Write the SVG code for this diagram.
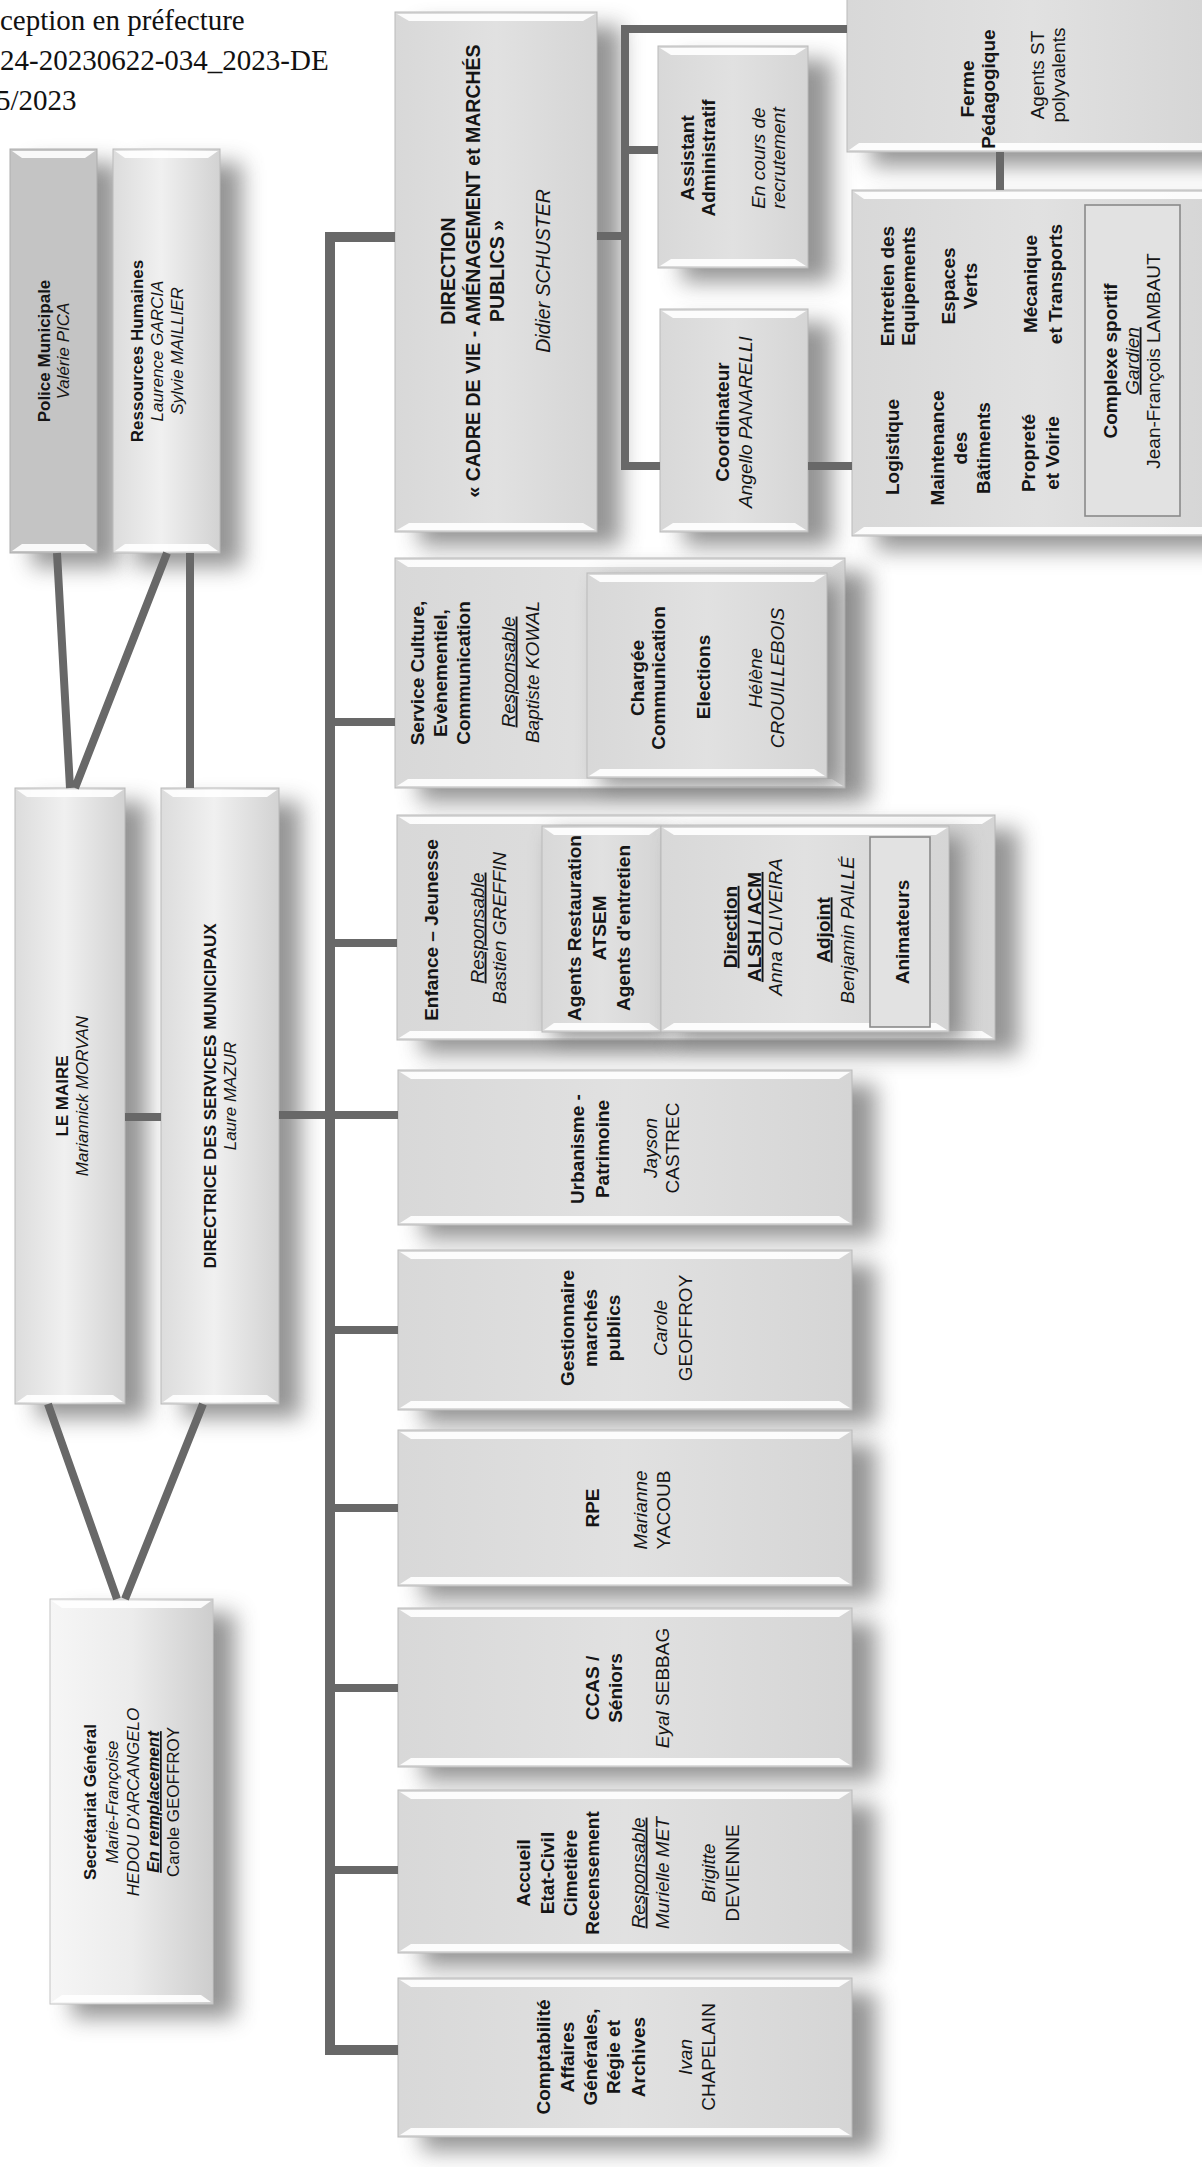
<svg xmlns="http://www.w3.org/2000/svg" width="1202" height="2167" viewBox="0 0 1202 2167">
<style>
.sh{fill:#777777;opacity:.78;filter:url(#blur)}
.bx{fill:url(#gBox);stroke:#b9b9b9;stroke-width:1}
.bxa{fill:url(#gAlt);stroke:#b9b9b9;stroke-width:1}
.bxs{fill:url(#gSec);stroke:#c4c4c4;stroke-width:1}
.bxp{fill:#c4c4c4;stroke:#adadad;stroke-width:1}
.bxi{fill:#e2e2e2;stroke:#8a8a8a;stroke-width:1.6}
.hl{fill:#ffffff;opacity:.9}
.t{font-family:"Liberation Sans",Arial,sans-serif;fill:#151515;text-anchor:middle}
.b{font-weight:bold}
.i{font-style:italic}
.u{text-decoration:underline}
.s165{font-size:17px}
.s17{font-size:17px}
.s19{font-size:19px}
.s195{font-size:19.5px}
.hd{font-family:"Liberation Serif","Times New Roman",serif;font-size:29px;fill:#111}
.cn{stroke:#686868;fill:none;stroke-width:8;stroke-linejoin:miter}
.bus{stroke-width:10}
</style>
<defs>
<filter id="blur" x="-30%" y="-30%" width="160%" height="160%"><feGaussianBlur stdDeviation="11"/></filter>
<linearGradient id="gBox" x1="0" y1="0" x2="1" y2="0"><stop offset="0" stop-color="#d8d8d8"/><stop offset=".5" stop-color="#e1e1e1"/><stop offset="1" stop-color="#d5d5d5"/></linearGradient>
<linearGradient id="gAlt" x1="0" y1="0" x2="1" y2="0"><stop offset="0" stop-color="#dcdcdc"/><stop offset=".45" stop-color="#f0f0f0"/><stop offset="1" stop-color="#d2d2d2"/></linearGradient>
<linearGradient id="gSec" x1="0" y1="0" x2="1" y2="0"><stop offset="0" stop-color="#f6f6f6"/><stop offset=".5" stop-color="#ececec"/><stop offset="1" stop-color="#cdcdcd"/></linearGradient>
</defs>
<rect width="1202" height="2167" fill="#ffffff"/>

<g id="header">
<text class="hd" x="0" y="30">ception en préfecture</text>
<text class="hd" x="0" y="70">24-20230622-034_2023-DE</text>
<text class="hd" x="-4" y="110">5/2023</text>
</g>

<g id="police">
<rect class="sh" x="32" y="163" width="87" height="404"/>
<rect class="bxp" x="10" y="149" width="87" height="404"/>
<path class="hl" d="M12 151H95L85 158H22Z"/><path class="hl" d="M12 551H95L85 544H22Z"/>
<text class="t b s165" transform="translate(49.8,351) rotate(-90)">Police Municipale</text>
<text class="t i s165" transform="translate(68.8,351) rotate(-90)">Valérie PICA</text>
</g>
<g id="rh">
<rect class="sh" x="135" y="163" width="107" height="404"/>
<rect class="bxa" x="113" y="149" width="107" height="404"/>
<path class="hl" d="M115 151H218L208 158H125Z"/><path class="hl" d="M115 551H218L208 544H125Z"/>
<text class="t b s165" transform="translate(142.8,351) rotate(-90)">Ressources Humaines</text>
<text class="t i s165" transform="translate(162.8,351) rotate(-90)">Laurence GARCIA</text>
<text class="t i s165" transform="translate(182.8,351) rotate(-90)">Sylvie MAILLIER</text>
</g>
<g id="maire">
<rect class="sh" x="37" y="802" width="110" height="616"/>
<rect class="bxa" x="15" y="788" width="110" height="616"/>
<path class="hl" d="M17 790H123L113 797H27Z"/><path class="hl" d="M17 1402H123L113 1395H27Z"/>
<text class="t b s165" transform="translate(67.8,1096) rotate(-90)">LE MAIRE</text>
<text class="t i s165" transform="translate(87.8,1096) rotate(-90)">Mariannick MORVAN</text>
</g>
<g id="dgs">
<rect class="sh" x="183" y="802" width="118" height="616"/>
<rect class="bxa" x="161" y="788" width="118" height="616"/>
<path class="hl" d="M163 790H277L267 797H173Z"/><path class="hl" d="M163 1402H277L267 1395H173Z"/>
<text class="t b s165" transform="translate(215.8,1096) rotate(-90)">DIRECTRICE DES SERVICES MUNICIPAUX</text>
<text class="t i s165" transform="translate(235.8,1096) rotate(-90)">Laure MAZUR</text>
</g>
<g id="secretariat">
<rect class="sh" x="72" y="1613" width="163" height="405"/>
<rect class="bxs" x="50" y="1599" width="163" height="405"/>
<path class="hl" d="M52 1601H211L201 1608H62Z"/><path class="hl" d="M52 2002H211L201 1995H62Z"/>
<text class="t b s17" transform="translate(96,1802) rotate(-90)">Secrétariat Général</text>
<text class="t i s17" transform="translate(118,1802) rotate(-90)">Marie-Françoise</text>
<text class="t i s17" transform="translate(139,1802) rotate(-90)">HEDOU D'ARCANGELO</text>
<text class="t b i u s17" transform="translate(159,1802) rotate(-90)">En remplacement</text>
<text class="t s17" transform="translate(179,1802) rotate(-90)">Carole GEOFFROY</text>
</g>

<g id="direction">
<rect class="sh" x="419" y="26" width="202" height="520"/>
<rect class="bx" x="395" y="12" width="202" height="520"/>
<path class="hl" d="M397 14H595L583 21H409Z"/><path class="hl" d="M397 530H595L583 523H409Z"/>
<text class="t b s195" transform="translate(454.8,271) rotate(-90)">DIRECTION</text>
<text class="t b s195" transform="translate(479.8,271) rotate(-90)">« CADRE DE VIE - AMÉNAGEMENT et MARCHÉS</text>
<text class="t b s195" transform="translate(503.8,271) rotate(-90)">PUBLICS »</text>
<text class="t i s195" transform="translate(549.8,271) rotate(-90)">Didier SCHUSTER</text>
</g>
<g id="assistant">
<rect class="sh" x="682" y="60" width="150" height="222"/>
<rect class="bx" x="658" y="46" width="150" height="222"/>
<path class="hl" d="M660 48H806L795 55H671Z"/><path class="hl" d="M660 266H806L795 259H671Z"/>
<text class="t b s19" transform="translate(693.6,158) rotate(-90)">Assistant</text>
<text class="t b s19" transform="translate(714.6,158) rotate(-90)">Administratif</text>
<text class="t i s19" transform="translate(764.6,158) rotate(-90)">En cours de</text>
<text class="t i s19" transform="translate(784.6,158) rotate(-90)">recrutement</text>
</g>
<g id="coordinateur">
<rect class="sh" x="684" y="323" width="148" height="223"/>
<rect class="bx" x="660" y="309" width="148" height="223"/>
<path class="hl" d="M662 311H806L795 318H673Z"/><path class="hl" d="M662 530H806L795 523H673Z"/>
<text class="t b s19" transform="translate(728.6,422) rotate(-90)">Coordinateur</text>
<text class="t i s19" transform="translate(751.6,422) rotate(-90)">Angello PANARELLI</text>
</g>
<g id="ferme">
<rect class="sh" x="871" y="0" width="370" height="166"/>
<rect class="bx" x="847" y="-4" width="370" height="156"/>
<path class="hl" d="M849 150H1215L1205 143H859Z"/>
<text class="t b s19" transform="translate(973.6,89) rotate(-90)">Ferme</text>
<text class="t b s19" transform="translate(994.6,89) rotate(-90)">Pédagogique</text>
<text class="t s19" transform="translate(1043.6,75) rotate(-90)">Agents ST</text>
<text class="t s19" transform="translate(1064.6,75) rotate(-90)">polyvalents</text>
</g>
<g id="logistique">
<rect class="sh" x="876" y="204" width="370" height="346"/>
<rect class="bx" x="852" y="190" width="370" height="346"/>
<path class="hl" d="M854 192H1220L1210 199H864Z"/><path class="hl" d="M854 534H1220L1210 527H864Z"/>
<text class="t b s19" transform="translate(898.6,447) rotate(-90)">Logistique</text>
<text class="t b s19" transform="translate(893.6,286) rotate(-90)">Entretien des</text>
<text class="t b s19" transform="translate(914.6,286) rotate(-90)">Equipements</text>
<text class="t b s19" transform="translate(943.6,448) rotate(-90)">Maintenance</text>
<text class="t b s19" transform="translate(966.6,448) rotate(-90)">des</text>
<text class="t b s19" transform="translate(989.6,448) rotate(-90)">Bâtiments</text>
<text class="t b s19" transform="translate(954.6,286) rotate(-90)">Espaces</text>
<text class="t b s19" transform="translate(976.6,286) rotate(-90)">Verts</text>
<text class="t b s19" transform="translate(1034.6,453) rotate(-90)">Propreté</text>
<text class="t b s19" transform="translate(1058.6,453) rotate(-90)">et Voirie</text>
<text class="t b s19" transform="translate(1036.6,284) rotate(-90)">Mécanique</text>
<text class="t b s19" transform="translate(1061.6,284) rotate(-90)">et Transports</text>
</g>
<g id="complexe">
<rect class="bxi" x="1085" y="205" width="95" height="311"/>
<text class="t b s19" transform="translate(1116.6,361) rotate(-90)">Complexe sportif</text>
<text class="t i u s19" transform="translate(1138.6,361) rotate(-90)">Gardien</text>
<text class="t s19" transform="translate(1159.6,361) rotate(-90)">Jean-François LAMBAUT</text>
</g>

<g id="culture">
<rect class="sh" x="419" y="572" width="450" height="230"/>
<rect class="bx" x="395" y="558" width="450" height="230"/>
<path class="hl" d="M397 560H843L832 567H408Z"/><path class="hl" d="M397 786H843L832 779H408Z"/>
<text class="t b s19" transform="translate(423.6,673) rotate(-90)">Service Culture,</text>
<text class="t b s19" transform="translate(446.6,673) rotate(-90)">Evènementiel,</text>
<text class="t b s19" transform="translate(469.6,673) rotate(-90)">Communication</text>
<text class="t i u s19" transform="translate(514.6,672) rotate(-90)">Responsable</text>
<text class="t i s19" transform="translate(538.6,672) rotate(-90)">Baptiste KOWAL</text>
</g>
<g id="chargee">
<rect class="sh" x="600" y="582" width="240" height="205"/>
<rect class="bx" x="587" y="573" width="240" height="205"/>
<path class="hl" d="M589 575H825L814 582H600Z"/><path class="hl" d="M589 776H825L814 769H600Z"/>
<text class="t b s19" transform="translate(643.6,678) rotate(-90)">Chargée</text>
<text class="t b s19" transform="translate(664.6,678) rotate(-90)">Communication</text>
<text class="t b s19" transform="translate(709.6,677) rotate(-90)">Elections</text>
<text class="t i s19" transform="translate(761.6,678) rotate(-90)">Hélène</text>
<text class="t i s19" transform="translate(783.6,678) rotate(-90)">CROUILLEBOIS</text>
</g>

<g id="enfance">
<rect class="sh" x="421" y="829" width="598" height="225"/>
<rect class="bx" x="397" y="815" width="598" height="225"/>
<path class="hl" d="M399 817H993L982 824H410Z"/><path class="hl" d="M399 1038H993L982 1031H410Z"/>
<text class="t b s19" transform="translate(437.6,930) rotate(-90)">Enfance – Jeunesse</text>
<text class="t i u s19" transform="translate(483.6,928) rotate(-90)">Responsable</text>
<text class="t i s19" transform="translate(505.6,928) rotate(-90)">Bastien GREFFIN</text>
</g>
<g id="agents">
<rect class="sh" x="552" y="834" width="119" height="206"/>
<rect class="bx" x="542" y="826" width="119" height="206"/>
<path class="hl" d="M544 828H659L649 835H554Z"/><path class="hl" d="M544 1030H659L649 1023H554Z"/>
<text class="t b s19" transform="translate(580.6,928) rotate(-90)">Agents Restauration</text>
<text class="t b s19" transform="translate(605.6,928) rotate(-90)">ATSEM</text>
<text class="t b s19" transform="translate(629.6,928) rotate(-90)">Agents d'entretien</text>
</g>
<g id="alsh">
<rect class="sh" x="675" y="836" width="288" height="206"/>
<rect class="bx" x="661" y="826" width="288" height="206"/>
<path class="hl" d="M663 828H947L936 835H674Z"/><path class="hl" d="M663 1030H947L936 1023H674Z"/>
<text class="t b u s19" transform="translate(736.6,927) rotate(-90)">Direction</text>
<text class="t b u s19" transform="translate(760.6,927) rotate(-90)">ALSH / ACM</text>
<text class="t i s19" transform="translate(781.6,927) rotate(-90)">Anna OLIVEIRA</text>
<text class="t b u s19" transform="translate(829.6,930) rotate(-90)">Adjoint</text>
<text class="t i s19" transform="translate(853.6,930) rotate(-90)">Benjamin PAILLÉ</text>
</g>
<g id="animateurs">
<rect class="bxi" x="870" y="837" width="60" height="190"/>
<text class="t b s19" transform="translate(908.6,932) rotate(-90)">Animateurs</text>
</g>

<g id="urbanisme">
<rect class="sh" x="422" y="1084" width="454" height="155"/>
<rect class="bx" x="398" y="1070" width="454" height="155"/>
<path class="hl" d="M400 1072H850L839 1079H411Z"/><path class="hl" d="M400 1223H850L839 1216H411Z"/>
<text class="t b s19" transform="translate(583.6,1149) rotate(-90)">Urbanisme -</text>
<text class="t b s19" transform="translate(608.6,1149) rotate(-90)">Patrimoine</text>
<text class="t i s19" transform="translate(656.6,1148) rotate(-90)">Jayson</text>
<text class="t s19" transform="translate(678.6,1148) rotate(-90)">CASTREC</text>
</g>
<g id="gestionnaire">
<rect class="sh" x="422" y="1264" width="454" height="160"/>
<rect class="bx" x="398" y="1250" width="454" height="160"/>
<path class="hl" d="M400 1252H850L839 1259H411Z"/><path class="hl" d="M400 1408H850L839 1401H411Z"/>
<text class="t b s19" transform="translate(573.6,1328) rotate(-90)">Gestionnaire</text>
<text class="t b s19" transform="translate(596.6,1328) rotate(-90)">marchés</text>
<text class="t b s19" transform="translate(619.6,1328) rotate(-90)">publics</text>
<text class="t i s19" transform="translate(666.6,1328) rotate(-90)">Carole</text>
<text class="t s19" transform="translate(691.6,1328) rotate(-90)">GEOFFROY</text>
</g>
<g id="rpe">
<rect class="sh" x="422" y="1444" width="454" height="156"/>
<rect class="bx" x="398" y="1430" width="454" height="156"/>
<path class="hl" d="M400 1432H850L839 1439H411Z"/><path class="hl" d="M400 1584H850L839 1577H411Z"/>
<text class="t b s19" transform="translate(598.6,1508) rotate(-90)">RPE</text>
<text class="t i s19" transform="translate(646.6,1510) rotate(-90)">Marianne</text>
<text class="t s19" transform="translate(669.6,1510) rotate(-90)">YACOUB</text>
</g>
<g id="ccas">
<rect class="sh" x="422" y="1622" width="454" height="159"/>
<rect class="bx" x="398" y="1608" width="454" height="159"/>
<path class="hl" d="M400 1610H850L839 1617H411Z"/><path class="hl" d="M400 1765H850L839 1758H411Z"/>
<text class="t b s19" transform="translate(598.6,1688) rotate(-90)">CCAS /</text>
<text class="t b s19" transform="translate(621.6,1688) rotate(-90)">Séniors</text>
<text class="t s19" transform="translate(668.6,1688) rotate(-90)"><tspan class="i">Eyal</tspan> SEBBAG</text>
</g>
<g id="accueil">
<rect class="sh" x="422" y="1804" width="454" height="163"/>
<rect class="bx" x="398" y="1790" width="454" height="163"/>
<path class="hl" d="M400 1792H850L839 1799H411Z"/><path class="hl" d="M400 1951H850L839 1944H411Z"/>
<text class="t b s19" transform="translate(529.6,1873) rotate(-90)">Accueil</text>
<text class="t b s19" transform="translate(553.6,1873) rotate(-90)">Etat-Civil</text>
<text class="t b s19" transform="translate(576.6,1873) rotate(-90)">Cimetière</text>
<text class="t b s19" transform="translate(598.6,1873) rotate(-90)">Recensement</text>
<text class="t i u s19" transform="translate(644.6,1873) rotate(-90)">Responsable</text>
<text class="t i s19" transform="translate(668.6,1873) rotate(-90)">Murielle MET</text>
<text class="t i s19" transform="translate(714.6,1873) rotate(-90)">Brigitte</text>
<text class="t s19" transform="translate(738.6,1873) rotate(-90)">DEVIENNE</text>
</g>
<g id="comptabilite">
<rect class="sh" x="422" y="1992" width="454" height="159"/>
<rect class="bx" x="398" y="1978" width="454" height="159"/>
<path class="hl" d="M400 1980H850L839 1987H411Z"/><path class="hl" d="M400 2135H850L839 2128H411Z"/>
<text class="t b s19" transform="translate(549.6,2057) rotate(-90)">Comptabilité</text>
<text class="t b s19" transform="translate(573.6,2057) rotate(-90)">Affaires</text>
<text class="t b s19" transform="translate(596.6,2057) rotate(-90)">Générales,</text>
<text class="t b s19" transform="translate(619.6,2057) rotate(-90)">Régie et</text>
<text class="t b s19" transform="translate(644.6,2057) rotate(-90)">Archives</text>
<text class="t i s19" transform="translate(691.6,2057) rotate(-90)">Ivan</text>
<text class="t s19" transform="translate(714.6,2057) rotate(-90)">CHAPELAIN</text>
</g>

<g id="connectors">
<path class="cn bus" d="M395 237H330V2050H398"/>
<path class="cn" d="M330 722H395M330 943H397M279 1115H398M330 1330H398M330 1508H398M330 1688H398M330 1870H398"/>
<path class="cn" d="M125 1117H161"/>
<path class="cn" d="M57 553L70 788M167 553L75 788M190 553V788"/>
<path class="cn" d="M48 1404L117 1599M203 1404L125 1599"/>
<path class="cn" d="M597 236H625M847 29H625V466H660M625 150H658M808 466H852M1000 152V190"/>
</g>
</svg>
